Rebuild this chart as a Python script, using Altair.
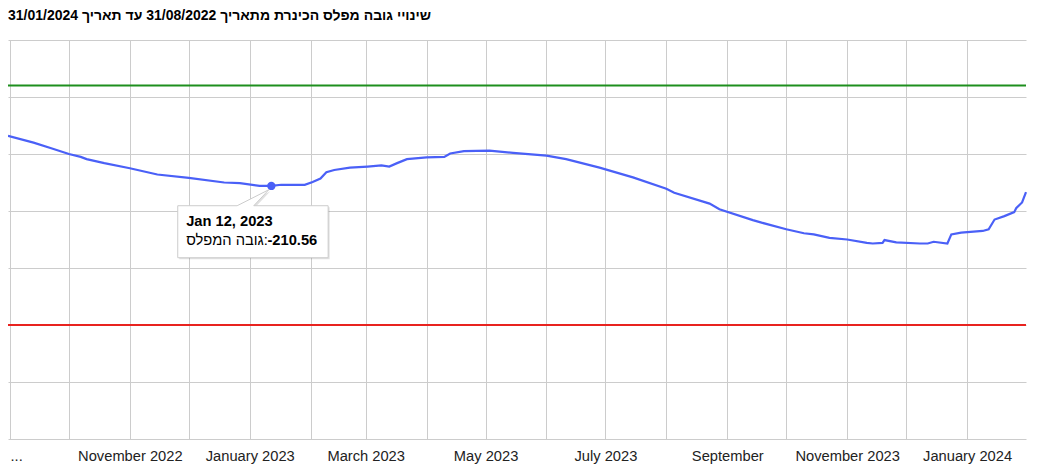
import altair as alt
import pandas as pd

TITLE = "שינויי גובה מפלס הכינרת מתאריך 31/08/2022 עד תאריך 31/01/2024"
FONT = "Liberation Sans, Arial, sans-serif"

# Kinneret level (m below sea level)
dates = [
    "2022-08-31", "2022-09-13", "2022-09-22", "2022-10-01", "2022-10-07", "2022-10-10",
    "2022-10-19", "2022-11-01", "2022-11-15", "2022-12-01", "2022-12-19", "2022-12-27",
    "2023-01-06", "2023-01-12", "2023-01-17", "2023-01-29", "2023-02-02", "2023-02-06",
    "2023-02-09", "2023-02-13", "2023-02-21", "2023-03-02", "2023-03-09", "2023-03-13",
    "2023-03-17", "2023-03-22", "2023-04-01", "2023-04-10", "2023-04-13", "2023-04-20",
    "2023-05-03", "2023-05-15", "2023-06-01", "2023-06-11", "2023-06-28", "2023-07-15",
    "2023-08-01", "2023-08-05", "2023-08-23", "2023-08-28", "2023-09-14", "2023-09-18",
    "2023-10-01", "2023-10-10", "2023-10-15", "2023-10-23", "2023-11-01", "2023-11-11",
    "2023-11-14", "2023-11-19", "2023-11-20", "2023-11-26", "2023-12-08", "2023-12-12",
    "2023-12-15", "2023-12-22", "2023-12-24", "2023-12-29", "2024-01-09", "2024-01-12",
    "2024-01-15", "2024-01-20", "2024-01-25", "2024-01-26", "2024-01-29", "2024-01-31",
]
levels = [
    -209.68, -209.80, -209.90, -210.00, -210.05, -210.09,
    -210.16, -210.25, -210.36, -210.42, -210.50, -210.51,
    -210.56, -210.56, -210.54, -210.54, -210.49, -210.43,
    -210.32, -210.28, -210.24, -210.22, -210.20, -210.22,
    -210.16, -210.09, -210.06, -210.05, -209.99, -209.95,
    -209.94, -209.98, -210.03, -210.09, -210.24, -210.41,
    -210.61, -210.68, -210.87, -210.97, -211.16, -211.20,
    -211.32, -211.39, -211.41, -211.47, -211.50, -211.56,
    -211.57, -211.56, -211.51, -211.55, -211.57, -211.57,
    -211.54, -211.57, -211.41, -211.38, -211.35, -211.32,
    -211.15, -211.09, -211.02, -210.95, -210.85, -210.67,
]

# red lines
line_names = ["upper", "lower"]
line_levels = [-208.80, -213.00]
line_colors = ["#1e8f1e", "#e8231f"]

# highlighted point / tooltip
tip_date = ["2023-01-12"]
tip_level = [-210.56]
tip_title = ["Jan 12, 2023"]
tip_series = ["גובה המפלס:"]
tip_value = ["-210.56"]

month_ticks = [
    "2022-09-01", "2022-10-01", "2022-11-01", "2022-12-01", "2023-01-01", "2023-02-01",
    "2023-03-01", "2023-04-01", "2023-05-01", "2023-06-01", "2023-07-01", "2023-08-01",
    "2023-09-01", "2023-10-01", "2023-11-01", "2023-12-01", "2024-01-01",
]
x_start, x_end = "2022-08-31", "2024-01-31"
y_min, y_max = -215, -208
y_grid = [y_min + 0.5 * i for i in range(int((y_max - y_min) * 2) + 1)]


def dt(s):
    t = pd.Timestamp(s)
    return alt.DateTime(year=t.year, month=t.month, date=t.day, utc=True)


df = pd.DataFrame({"date": dates, "level": levels})
lines_df = pd.DataFrame({"name": line_names, "level": line_levels})
tip_df = pd.DataFrame({"date": tip_date, "level": tip_level, "title": tip_title,
                       "series": tip_series, "value": tip_value})
title_df = pd.DataFrame({"title": [TITLE]})

label_expr = (
    "utcmonth(datum.value) % 2 === 0 ? "
    "(utcyear(datum.value) === 2022 && utcmonth(datum.value) === 8 ? '...' : "
    "(utcyear(datum.value) === 2023 && utcmonth(datum.value) === 8 ? 'September' : "
    "utcFormat(datum.value, '%B %Y'))) : ''"
)

x_enc = alt.X(
    "date:T",
    scale=alt.Scale(type="utc", domain=[dt(x_start), dt(x_end)]),
    axis=alt.Axis(
        values=[dt(m) for m in month_ticks], labelExpr=label_expr, grid=True,
        gridColor="#cccccc", gridWidth=1, domain=False, ticks=False, tickSize=0,
        labelOverlap=False, labelFlush=5, labelFont=FONT, labelFontSize=14.7,
        labelColor="#222222", labelBaseline="alphabetic", labelPadding=21, title=None,
    ),
)
y_enc = alt.Y(
    "level:Q",
    scale=alt.Scale(domain=[y_min, y_max], nice=False, zero=False),
    axis=alt.Axis(
        values=y_grid, labels=False, ticks=False, domain=False, title=None,
        gridColor={"condition": {"test": "datum.value % 1 === 0", "value": "#cccccc"},
                   "value": "#ebebeb"},
        gridWidth=1,
    ),
)

base_line = alt.Chart(df).mark_line(color="#4a60f7", strokeWidth=2.2).encode(x=x_enc, y=y_enc)

rules = alt.Chart(lines_df).mark_rule(strokeWidth=2).encode(
    y=alt.Y("level:Q"),
    color=alt.Color("name:N", scale=alt.Scale(domain=line_names, range=line_colors), legend=None),
)

dot = alt.Chart(tip_df).mark_point(filled=True, color="#4a60f7", size=70, opacity=1).encode(
    x="date:T", y="level:Q"
)

box_path = ("M -93.6 19.8 L -34.2 19.8 L -2.5 3.8 L -17.6 19.8 L 56.8 19.8 "
            "L 56.8 71.8 L -93.6 71.8 Z")
shadow = alt.Chart(tip_df).mark_point(
    shape=box_path, size=4, filled=True, fill="#000000", fillOpacity=0.12, strokeWidth=0,
    xOffset=1.5, yOffset=1.5, opacity=1,
).encode(x="date:T", y="level:Q")
box = alt.Chart(tip_df).mark_point(
    shape=box_path, size=4, filled=True, fill="#ffffff", stroke="#cccccc", strokeWidth=1,
    opacity=1, fillOpacity=1, strokeOpacity=1,
).encode(x="date:T", y="level:Q")

t_title = alt.Chart(tip_df).mark_text(
    align="left", baseline="alphabetic", dx=-85.2, dy=40.5, font=FONT, fontSize=14.7,
    fontWeight="bold", color="#000000",
).encode(x="date:T", y="level:Q", text="title:N")
t_series = alt.Chart(tip_df).mark_text(
    align="left", baseline="alphabetic", dx=-85.2, dy=59.5, font=FONT, fontSize=14.7,
    color="#000000",
).encode(x="date:T", y="level:Q", text="series:N")
t_value = alt.Chart(tip_df).mark_text(
    align="left", baseline="alphabetic", dx=-3.9, dy=59.5, font=FONT, fontSize=14.7,
    fontWeight="bold", color="#000000",
).encode(x="date:T", y="level:Q", text="value:N")

chart_title = alt.Chart(title_df).mark_text(
    align="left", baseline="alphabetic", font=FONT, fontSize=14, fontWeight="bold",
    color="#000000",
).encode(x=alt.value(0), y=alt.value(-20), text="title:N")

chart = alt.layer(
    rules, base_line, dot, shadow, box, t_title, t_series, t_value, chart_title
).properties(
    width=1018, height=399,
    padding={"left": 0, "top": 32, "right": 24, "bottom": 26},
    autosize=alt.AutoSizeParams(type="none"),
    background="#ffffff",
).configure_view(stroke=None)

chart.save("out.html", embed_options={"renderer": "svg", "actions": False})
